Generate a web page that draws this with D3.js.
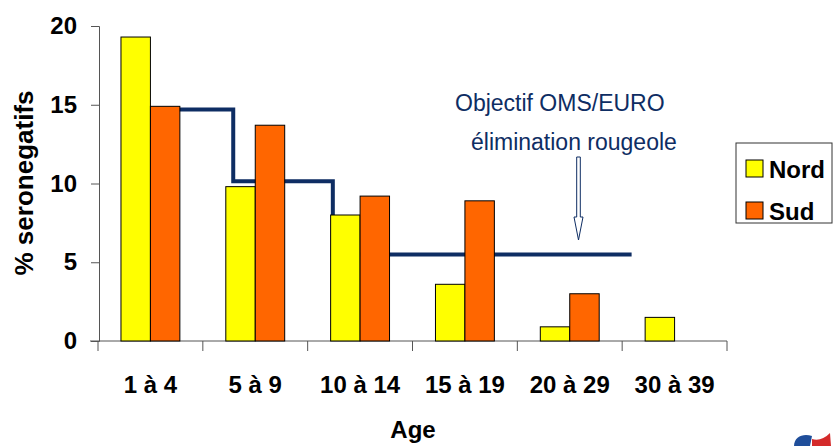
<html>
<meta charset="UTF-8">
<head>
    <title>seronegatifs</title>
    <style>
        body { margin: 0; background: #fff; }
        text { font-family: "Liberation Sans", Arial, sans-serif; }
    </style>
</head>
<body>
    <script src="https://d3js.org/d3.v7.min.js"></script>
    <script>
        // data
        let ages = ["1 à 4", "5 à 9", "10 à 14", "15 à 19", "20 à 29", "30 à 39"]
        let series = ["Nord", "Sud"]
        let nord = [19.3, 9.8, 8.0, 3.6, 0.9, 1.5]
        let sud = [14.9, 13.7, 9.2, 8.9, 3.0, null]
        let yTicks = [0, 5, 10, 15, 20]
        // objectif OMS/EURO: step line, breakpoints in age-group units
        let objBreaks = [0.7, 1.29, 2.24, 5.09]
        let objLevels = [14.7, 10.15, 5.5, 5.5]

        let colors = { Nord: "#FFFF00", Sud: "#FF6600" }
        let navy = "#0E2D63"

        let svg = d3.select("body")
            .append("svg")
            .attr("width", 834)
            .attr("height", 446)

        let x = d3.scaleBand().domain(ages).range([98, 727])
        let x1 = d3.scaleBand().domain(series).range([0, x.bandwidth()]).paddingOuter(0.78)
        let xu = d3.scaleLinear().domain([0, ages.length]).range([98, 727])
        let y = d3.scaleLinear().domain([0, 20]).range([341, 26])

        // y axis
        let yAxis = svg.append("g")
            .attr("transform", "translate(99,0)")
            .call(d3.axisLeft(y).tickValues(yTicks).tickSize(8).tickPadding(14))
        yAxis.selectAll("path, line").attr("stroke", "#555")
        yAxis.selectAll("text")
            .attr("fill", "#000")
            .style("font-size", "24px")
            .style("font-weight", "bold")
            .style("font-family", "'Liberation Sans', Arial, sans-serif")

        // x axis: line, ticks at group boundaries, labels at centres
        let xAxis = svg.append("g")
        xAxis.append("line")
            .attr("x1", 90).attr("x2", 727)
            .attr("y1", y(0)).attr("y2", y(0))
            .attr("stroke", "#555")
        xAxis.selectAll(".bt")
            .data(d3.range(ages.length + 1)).enter()
            .append("line")
            .attr("x1", d => xu(d)).attr("x2", d => xu(d))
            .attr("y1", y(0)).attr("y2", y(0) + 10)
            .attr("stroke", "#555")
        xAxis.selectAll(".lab")
            .data(ages).enter()
            .append("text")
            .attr("x", d => x(d) + x.bandwidth() / 2)
            .attr("y", y(0) + 52)
            .attr("text-anchor", "middle")
            .style("font-size", "24px")
            .style("font-weight", "bold")
            .text(d => d)

        // objective step line (under the bars)
        let stepPts = objBreaks.map((b, i) => [b, objLevels[i]])
        svg.append("path")
            .datum(stepPts)
            .attr("fill", "none")
            .attr("stroke", navy)
            .attr("stroke-width", 4)
            .attr("d", d3.line().x(d => xu(d[0])).y(d => y(d[1])).curve(d3.curveStepAfter))

        // bars
        let rows = ages.map((a, i) => ({ age: a, Nord: nord[i], Sud: sud[i] }))
        let groups = svg.selectAll(".grp")
            .data(rows).enter()
            .append("g")
            .attr("transform", d => "translate(" + x(d.age) + ",0)")
        groups.selectAll("rect")
            .data(d => series.filter(s => d[s] != null).map(s => ({ key: s, value: d[s] })))
            .enter()
            .append("rect")
            .attr("x", d => x1(d.key))
            .attr("width", x1.bandwidth())
            .attr("y", d => y(d.value))
            .attr("height", d => y(0) - y(d.value))
            .attr("fill", d => colors[d.key])
            .attr("stroke", "#000")
            .attr("stroke-width", 1)

        // annotation
        svg.append("text")
            .attr("x", 455).attr("y", 111)
            .attr("fill", navy)
            .style("font-size", "23px")
            .text("Objectif OMS/EURO")
        svg.append("text")
            .attr("x", 471).attr("y", 150)
            .attr("fill", navy)
            .style("font-size", "23px")
            .text("élimination rougeole")
        let ax = 578.5
        svg.append("path")
            .attr("d", "M" + (ax - 1.8) + ",157 L" + (ax + 1.8) + ",157 L" + (ax + 1.8) + ",217 L" + (ax + 4.5) + ",217 L" + ax + ",240 L" + (ax - 4.5) + ",217 L" + (ax - 1.8) + ",217 Z")
            .attr("fill", "#fff")
            .attr("stroke", navy)
            .attr("stroke-width", 1)

        // axis titles
        svg.append("text")
            .attr("x", 413).attr("y", 438)
            .attr("text-anchor", "middle")
            .style("font-size", "24px")
            .style("font-weight", "bold")
            .text("Age")
        svg.append("text")
            .attr("transform", "translate(33,183) rotate(-90)")
            .attr("text-anchor", "middle")
            .style("font-size", "26px")
            .style("font-weight", "bold")
            .text("% seronegatifs")

        // legend
        let legend = svg.append("g").attr("transform", "translate(736,143)")
        legend.append("rect")
            .attr("width", 96).attr("height", 80)
            .attr("fill", "#fff").attr("stroke", "#333")
        let li = legend.selectAll(".li")
            .data(series).enter()
            .append("g")
            .attr("transform", (d, i) => "translate(0," + (i * 42) + ")")
        li.append("rect")
            .attr("x", 10).attr("y", 17)
            .attr("width", 17).attr("height", 17)
            .attr("fill", d => colors[d])
            .attr("stroke", "#000")
        li.append("text")
            .attr("x", 33).attr("y", 35)
            .style("font-size", "24px")
            .style("font-weight", "bold")
            .text(d => d)

        // corner logo fragment
        let logo = svg.append("g")
        logo.append("path")
            .attr("d", "M794,446 C794,436 804,433 812,436 L810,446 Z")
            .attr("fill", "#1F4E9A")
        logo.append("path")
            .attr("d", "M812,439 C818,441 824,439 830,433 L831,446 L812,446 Z")
            .attr("fill", "#D42A2A")
    </script>
</body>
</html>
